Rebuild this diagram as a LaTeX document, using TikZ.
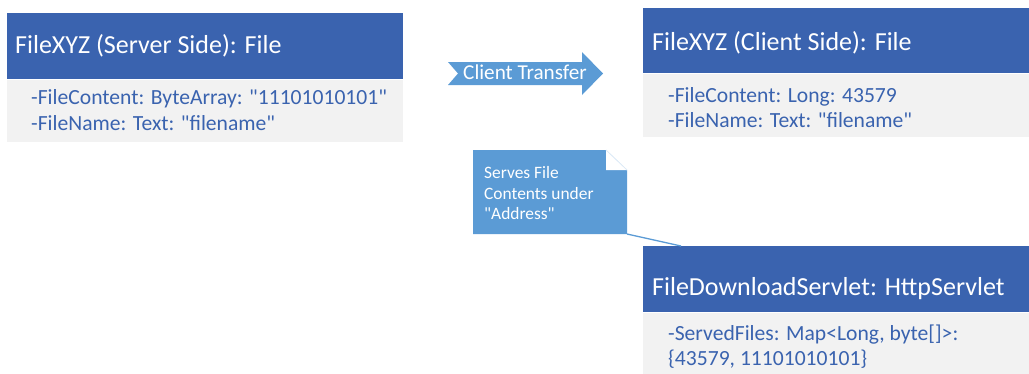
\documentclass[tikz,border=0pt]{standalone}
\usepackage{fontspec}
\setmainfont{Carlito}[Ligatures=TeXOff]
\definecolor{hdr}{RGB}{58,99,175}
\definecolor{bodybg}{RGB}{242,242,242}
\definecolor{accent}{RGB}{91,155,213}
\definecolor{fold}{RGB}{222,235,247}
\definecolor{txt}{RGB}{58,99,175}
\tikzset{
  hdrbox/.style={fill=hdr, draw=none, inner sep=0pt, anchor=north west},
  bodybox/.style={fill=bodybg, draw=none, inner sep=0pt, anchor=north west},
  titletext/.style={text=white, inner sep=0pt, anchor=base west, font=\fontsize{26}{31}\selectfont},
  attrtext/.style={text=txt, inner sep=0pt, anchor=base west, font=\fontsize{21.6}{26}\selectfont},
  notetext/.style={text=white, inner sep=0pt, anchor=base west, font=\fontsize{17.4}{21}\selectfont},
  arrowtext/.style={text=white, inner sep=0pt, anchor=base west, font=\fontsize{21.2}{25}\selectfont},
}
\begin{document}
\begin{tikzpicture}[x=1pt,y=-1pt]
\useasboundingbox (0,0) rectangle (1029,373);
% Server side box
\node[hdrbox, minimum width=396pt, minimum height=66pt] (srvH) at (7,13) {};
\node[bodybox, minimum width=396pt, minimum height=62pt] (srvB) at (7,80) {};
\node[titletext] (srvT) at (15,53) {FileXYZ (Server Side): File};
\node[attrtext] (srvA1) at (31,104) {-FileContent: ByteArray: "11101010101"};
\node[attrtext] (srvA2) at (31,130) {-FileName: Text: "filename"};
% Client side box
\node[hdrbox, minimum width=386pt, minimum height=65pt] (cliH) at (643,8) {};
\node[bodybox, minimum width=386pt, minimum height=63pt] (cliB) at (643,74) {};
\node[titletext] (cliT) at (652,50) {FileXYZ (Client Side): File};
\node[attrtext] (cliA1) at (668,102) {-FileContent: Long: 43579};
\node[attrtext] (cliA2) at (668,127) {-FileName: Text: "filename"};
% Servlet box
\node[hdrbox, minimum width=386pt, minimum height=66pt] (svlH) at (643,246) {};
\node[bodybox, minimum width=386pt, minimum height=61pt] (svlB) at (643,313) {};
\node[titletext] (svlT) at (652,295) {FileDownloadServlet: HttpServlet};
\node[attrtext] (svlA1) at (668,340) {-ServedFiles: Map<Long, byte[]>:};
\node[attrtext] (svlA2) at (668,365) {\{43579, 11101010101\}};
% Transfer arrow
\fill[accent] (448,62) -- (582,62) -- (582,52) -- (603,73.5) -- (582,95) -- (582,85) -- (448,85) -- (458,73.5) -- cycle;
\node[arrowtext] (arrT) at (463,79) {Client Transfer};
% Note
\fill[accent] (473,150) -- (606,150) -- (627,170) -- (627,234) -- (473,234) -- cycle;
\fill[white] (606,150) -- (606,170) -- (627,170) -- cycle;
\draw[fold, line width=0.8pt] (606,150) -- (627,170);
\coordinate (noteEnd) at (627,234);
\coordinate (svlPin) at (681,246);
\node[notetext] (nt1) at (484,178) {Serves File};
\node[notetext] (nt2) at (484,199) {Contents under};
\node[notetext] (nt3) at (484,219) {"Address"};
\draw[accent, line width=1.3pt] (noteEnd) -- (svlPin);
\end{tikzpicture}
\end{document}
